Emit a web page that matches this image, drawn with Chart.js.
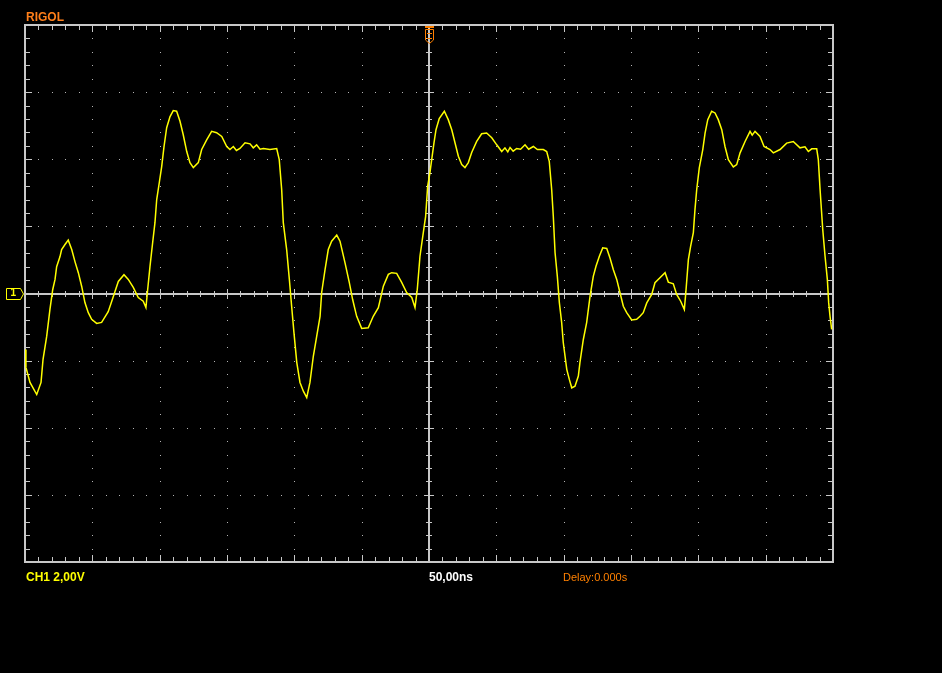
<!DOCTYPE html>
<html>
<head>
<meta charset="utf-8">
<script src="https://cdn.jsdelivr.net/npm/chart.js@4"></script>
<style>
  body { margin: 0; background: #000; }
  #wrap { position: relative; width: 942px; height: 673px; background: #000; }
  #scope { position: absolute; left: 0; top: 0; }
  .lbl { position: absolute; font-family: "Liberation Sans", Arial, sans-serif; white-space: nowrap; line-height: 12px; font-size: 12px; font-weight: bold; }
</style>
</head>
<body>
<div id="wrap">
  <canvas id="scope" width="942" height="673"></canvas>
  <span class="lbl" style="left:26px; top:10.8px; color:#ff7f1a;">RIGOL</span>
  <span class="lbl" style="left:26px; top:571.3px; color:#ffff00;">CH1 2,00V</span>
  <span class="lbl" style="left:429px; top:571.3px; color:#ffffff;">50,00ns</span>
  <span class="lbl" style="left:563px; top:571.6px; color:#ff8000; font-weight:normal; font-size:11px; line-height:11px;">Delay:0.000s</span>
  <span class="lbl" style="left:10.5px; top:288px; color:#ffff00; font-size:10px; line-height:10px;">1</span>
</div>
<script>
// --- scope settings ---
const X_DIVS = 12;
const Y_DIVS = 8;
const NS_PER_DIV = 50;
const VOLTS_PER_DIV = 2;

// --- CH1 trace (time in ns, level in V) ---
const timeNs = [
  -300.0, -299.3, -296.3, -291.3, -288.1, -286.6, -283.9, -281.5, -279.4, -277.7,
  -276.5, -274.0, -272.8, -270.3, -267.9, -265.3, -262.9, -260.4, -257.9, -255.5,
  -253.0, -250.5, -246.8, -243.1, -238.2, -234.4, -230.7, -226.5, -223.3, -219.6,
  -215.9, -212.2, -210.2, -208.9, -207.2, -205.2, -203.5, -202.2, -200.3, -198.5,
  -196.8, -194.8, -192.3, -189.9, -187.4, -184.9, -182.5, -179.9, -177.5, -175.0,
  -171.3, -168.8, -165.1, -161.4, -157.7, -153.9, -150.2, -147.8, -145.3, -143.0,
  -140.4, -136.6, -132.9, -130.5, -128.0, -125.5, -123.0, -118.1, -113.1, -111.2,
  -109.4, -108.2, -105.7, -103.7, -102.0, -100.3, -98.2, -95.8, -93.3, -90.8,
  -88.4, -85.9, -83.4, -80.9, -79.7, -77.2, -74.8, -72.3, -68.5, -66.1,
  -62.4, -59.2, -56.7, -53.7, -50.0, -45.1, -41.4, -37.6, -33.9, -30.2,
  -27.7, -24.0, -20.3, -16.6, -12.8, -10.4, -8.7, -6.7, -4.2, -2.5,
  -1.0, 0.7, 2.0, 3.7, 5.2, 7.6, 11.4, 14.3, 16.9, 19.3,
  21.8, 24.3, 26.7, 29.2, 31.7, 35.4, 39.1, 42.8, 46.6, 50.3,
  54.0, 56.4, 58.5, 60.2, 62.5, 65.1, 68.0, 71.3, 74.0, 77.5,
  80.5, 84.9, 87.4, 89.3, 91.1, 92.3, 93.6, 95.3, 96.8, 98.5,
  99.7, 102.3, 104.2, 106.0, 108.4, 110.9, 112.1, 114.6, 117.1, 119.6,
  122.0, 124.0, 126.5, 129.0, 132.0, 134.4, 136.9, 139.4, 141.8, 144.3,
  146.8, 150.5, 154.2, 156.7, 159.1, 161.7, 165.4, 167.8, 171.5, 175.3,
  177.7, 181.4, 183.9, 186.9, 189.6, 190.8, 192.6, 194.3, 196.3, 197.5,
  198.8, 200.7, 203.3, 205.0, 207.0, 209.9, 212.4, 214.8, 217.4, 219.8,
  222.3, 226.0, 228.5, 231.0, 234.7, 238.4, 240.0, 242.1, 245.8, 248.8,
  253.2, 255.7, 260.7, 265.6, 270.5, 275.5, 279.2, 281.7, 284.2, 287.9,
  289.1, 290.4, 292.4, 294.1, 295.8, 296.8, 297.8, 299.0
];
const ch1Volts = [
  -1.67, -2.20, -2.65, -3.01, -2.65, -1.96, -1.28, -0.48, 0.12, 0.42,
  0.80, 1.10, 1.31, 1.46, 1.59, 1.31, 0.95, 0.62, 0.21, -0.27,
  -0.57, -0.77, -0.89, -0.86, -0.54, -0.09, 0.36, 0.56, 0.42, 0.18,
  -0.12, -0.23, -0.42, 0.12, 0.80, 1.52, 2.11, 2.80, 3.30, 3.78,
  4.37, 4.94, 5.27, 5.45, 5.43, 5.13, 4.73, 4.23, 3.90, 3.75,
  3.90, 4.29, 4.58, 4.83, 4.79, 4.68, 4.38, 4.29, 4.38, 4.26,
  4.32, 4.49, 4.46, 4.34, 4.43, 4.30, 4.32, 4.29, 4.32, 3.99,
  3.10, 2.11, 1.31, 0.42, -0.38, -1.16, -2.05, -2.65, -2.91, -3.10,
  -2.65, -1.87, -1.28, -0.68, 0.03, 0.71, 1.31, 1.56, 1.74, 1.56,
  0.92, 0.33, -0.18, -0.68, -1.04, -1.02, -0.68, -0.42, 0.22, 0.57,
  0.62, 0.60, 0.33, 0.03, -0.12, -0.42, 0.12, 1.11, 1.82, 2.30,
  3.19, 3.60, 3.99, 4.49, 4.88, 5.21, 5.43, 5.18, 4.88, 4.49,
  4.09, 3.84, 3.75, 3.90, 4.20, 4.53, 4.76, 4.78, 4.64, 4.43,
  4.23, 4.34, 4.22, 4.35, 4.24, 4.32, 4.30, 4.43, 4.30, 4.38,
  4.29, 4.29, 4.23, 3.94, 3.10, 2.30, 1.22, 0.51, -0.27, -0.86,
  -1.46, -2.26, -2.56, -2.81, -2.76, -2.46, -2.05, -1.37, -0.86, -0.08,
  0.51, 0.81, 1.11, 1.36, 1.34, 1.06, 0.71, 0.42, 0.03, -0.38,
  -0.57, -0.79, -0.77, -0.68, -0.57, -0.28, -0.03, 0.32, 0.47, 0.62,
  0.34, 0.29, -0.03, -0.23, -0.48, 0.07, 1.01, 1.41, 1.81, 2.50,
  3.10, 3.74, 4.29, 4.78, 5.18, 5.43, 5.38, 5.18, 4.88, 4.38,
  3.99, 3.77, 3.84, 4.19, 4.53, 4.83, 4.72, 4.83, 4.68, 4.38,
  4.29, 4.19, 4.29, 4.48, 4.53, 4.34, 4.37, 4.23, 4.31, 4.31,
  3.99, 3.10, 1.90, 1.11, 0.42, -0.28, -0.68, -1.07
];

const points = timeNs.map((t, i) => ({ x: t, y: ch1Volts[i] }));

// --- graticule, frame and markers (drawn behind / over the trace) ---
const scopeScreen = {
  id: 'scopeScreen',
  beforeDatasetsDraw(chart) {
    const { ctx, chartArea: a } = chart;
    const w = a.right - a.left, h = a.bottom - a.top;
    const dx = w / X_DIVS, dy = h / Y_DIVS;
    const cx = Math.round(a.left + dx * X_DIVS / 2);
    const cy = Math.round(a.top + dy * Y_DIVS / 2);
    ctx.save();

    // dotted grid
    ctx.fillStyle = '#b4b4b4';
    for (let i = 1; i < X_DIVS; i++) {
      if (i === X_DIVS / 2) continue;
      const x = Math.round(a.left + i * dx);
      for (let j = 1; j < Y_DIVS * 5; j++) ctx.fillRect(x, Math.round(a.top + j * dy / 5), 1, 1);
    }
    for (let k = 1; k < Y_DIVS; k++) {
      if (k === Y_DIVS / 2) continue;
      const y = Math.round(a.top + k * dy);
      for (let j = 1; j < X_DIVS * 5; j++) ctx.fillRect(Math.round(a.left + j * dx / 5), y, 1, 1);
    }

    ctx.fillStyle = '#c8c8c8';
    // centre axes
    ctx.fillRect(a.left, cy - 1, w, 2);
    ctx.fillRect(cx - 1, a.top, 2, h);
    for (let j = 1; j < X_DIVS * 5; j++) {
      const x = Math.round(a.left + j * dx / 5);
      const len = j % 5 === 0 ? 5 : 3;
      ctx.fillRect(x, cy - len, 1, len * 2);
    }
    for (let j = 1; j < Y_DIVS * 5; j++) {
      const y = Math.round(a.top + j * dy / 5);
      const len = j % 5 === 0 ? 5 : 3;
      ctx.fillRect(cx - len, y, len * 2, 1);
    }

    // frame and its ticks
    ctx.fillRect(a.left - 1, a.top - 1, w + 2, 2);
    ctx.fillRect(a.left - 1, a.bottom - 1, w + 2, 2);
    ctx.fillRect(a.left - 1, a.top - 1, 2, h + 2);
    ctx.fillRect(a.right - 1, a.top - 1, 2, h + 2);
    for (let j = 1; j < X_DIVS * 5; j++) {
      const x = Math.round(a.left + j * dx / 5);
      const len = j % 5 === 0 ? 6 : 4;
      ctx.fillRect(x, a.top + 1, 1, len);
      ctx.fillRect(x, a.bottom - 1 - len, 1, len);
    }
    for (let j = 1; j < Y_DIVS * 5; j++) {
      const y = Math.round(a.top + j * dy / 5);
      const len = j % 5 === 0 ? 6 : 4;
      ctx.fillRect(a.left + 1, y, len, 1);
      ctx.fillRect(a.right - 1 - len, y, len, 1);
    }
    ctx.restore();
  },
  afterDatasetsDraw(chart) {
    const { ctx, chartArea: a } = chart;
    const cx = Math.round((a.left + a.right) / 2);
    const cy = Math.round((a.top + a.bottom) / 2);
    ctx.save();

    // trigger position marker (top)
    ctx.strokeStyle = '#ff8000';
    ctx.lineWidth = 1;
    ctx.fillStyle = '#ff8000';
    ctx.fillRect(cx - 4, a.top + 1, 9, 2);
    ctx.beginPath();
    ctx.moveTo(cx - 3.5, a.top + 4.5);
    ctx.lineTo(cx + 4.5, a.top + 4.5);
    ctx.lineTo(cx + 4.5, a.top + 15);
    ctx.lineTo(cx + 0.5, a.top + 18.5);
    ctx.lineTo(cx - 3.5, a.top + 15);
    ctx.closePath();
    ctx.stroke();
    ctx.fillRect(cx - 2, a.top + 8, 5, 1);
    ctx.fillRect(cx - 2, a.top + 13, 5, 1);

    // CH1 ground level marker (left)
    ctx.strokeStyle = '#ffff00';
    ctx.beginPath();
    ctx.moveTo(6.5, cy - 5.5);
    ctx.lineTo(20.5, cy - 5.5);
    ctx.lineTo(23.5, cy);
    ctx.lineTo(20.5, cy + 5.5);
    ctx.lineTo(6.5, cy + 5.5);
    ctx.closePath();
    ctx.stroke();
    ctx.restore();
  }
};

new Chart(document.getElementById('scope'), {
  type: 'line',
  data: {
    datasets: [{
      label: 'CH1',
      data: points,
      borderColor: '#ffff00',
      borderWidth: 1.5,
      pointRadius: 0,
      tension: 0,
      fill: false
    }]
  },
  options: {
    responsive: false,
    animation: false,
    layout: { padding: { left: 25, top: 25, right: 109, bottom: 111 } },
    plugins: { legend: { display: false }, tooltip: { enabled: false } },
    scales: {
      x: { type: 'linear', display: false, min: -NS_PER_DIV * X_DIVS / 2, max: NS_PER_DIV * X_DIVS / 2 },
      y: { type: 'linear', display: false, min: -VOLTS_PER_DIV * Y_DIVS / 2, max: VOLTS_PER_DIV * Y_DIVS / 2 }
    }
  },
  plugins: [scopeScreen]
});
</script>
</body>
</html>
